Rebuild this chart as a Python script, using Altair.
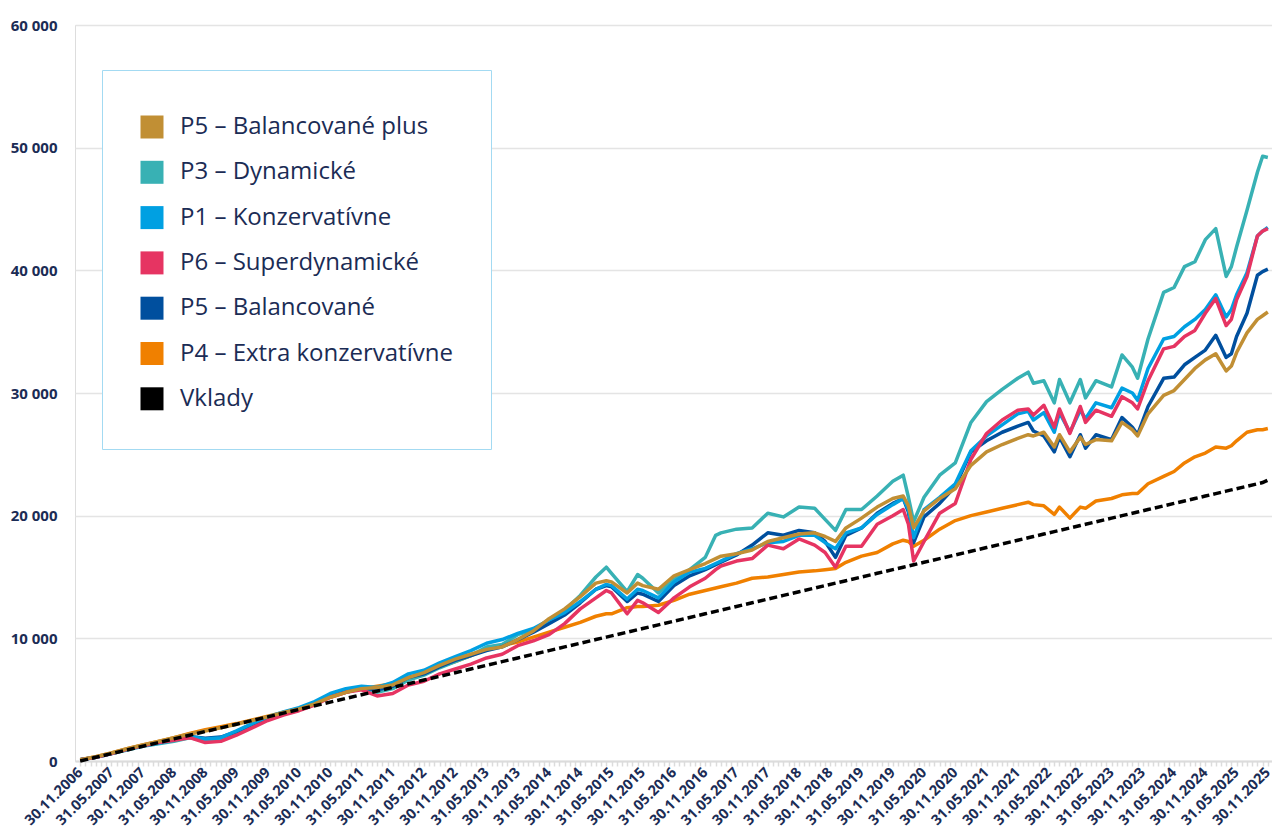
import json
import altair as alt
import pandas as pd

# ---------------- data ----------------
dates = [
    "2006-11", "2007-02", "2007-05", "2007-08", "2007-11", "2008-02", "2008-05", "2008-08",
    "2008-11", "2009-02", "2009-05", "2009-08", "2009-11", "2010-02", "2010-05", "2010-08",
    "2010-11", "2011-02", "2011-05", "2011-08", "2011-11", "2012-02", "2012-05", "2012-08",
    "2012-11", "2013-02", "2013-05", "2013-08", "2013-11", "2014-02", "2014-05", "2014-08",
    "2014-11", "2015-02", "2015-04", "2015-05", "2015-08", "2015-10", "2015-11", "2016-02",
    "2016-05", "2016-08", "2016-11", "2017-01", "2017-02", "2017-05", "2017-08", "2017-11",
    "2018-02", "2018-05", "2018-08", "2018-10", "2018-12", "2019-02", "2019-05", "2019-08",
    "2019-11", "2020-01", "2020-02", "2020-03", "2020-05", "2020-08", "2020-11", "2021-02",
    "2021-05", "2021-08", "2021-11", "2022-01", "2022-02", "2022-04", "2022-06", "2022-07",
    "2022-09", "2022-11", "2022-12", "2023-02", "2023-05", "2023-07", "2023-09", "2023-10",
    "2023-12", "2024-03", "2024-05", "2024-07", "2024-09", "2024-11", "2025-01", "2025-03",
    "2025-04", "2025-05", "2025-07", "2025-09", "2025-10", "2025-11",
]

p5_plus = [
    100, 350, 650, 1000, 1300, 1600, 1900, 2200, 2450, 2700, 3000, 3300, 3600, 3950, 4250, 4650,
    5200, 5600, 5900, 6000, 6200, 6800, 7200, 7800, 8300, 8700, 9100, 9300, 9900, 10600, 11600, 12400,
    13400, 14500, 14700, 14600, 13700, 14500, 14300, 14000, 15100, 15600, 16100, 16500, 16700, 16900, 17200, 17900,
    18200, 18500, 18600, 18300, 17900, 19000, 19800, 20700, 21400, 21600, 20800, 19000, 20400, 21400, 22200, 24100,
    25200, 25800, 26300, 26600, 26500, 26800, 25600, 26600, 25200, 26400, 25800, 26200, 26100, 27600, 27000, 26500,
    28300, 29800, 30200, 31100, 32000, 32700, 33200, 31800, 32200, 33300, 34900, 36000, 36300, 36600,
]
p3 = [
    100, 300, 600, 900, 1200, 1400, 1600, 1900, 1700, 1800, 2300, 2900, 3450, 3900, 4200, 4600,
    5300, 5600, 5900, 5600, 5900, 6600, 7000, 7600, 8100, 8600, 9300, 9500, 10300, 10700, 11500, 12300,
    13500, 15000, 15800, 15300, 13800, 15200, 14900, 13700, 14800, 15600, 16600, 18400, 18600, 18900, 19000, 20200,
    19900, 20700, 20600, 19700, 18800, 20500, 20500, 21600, 22800, 23300, 21500, 19500, 21500, 23300, 24300, 27600,
    29300, 30300, 31200, 31700, 30800, 31000, 29200, 31100, 29200, 31100, 29600, 31000, 30500, 33100, 32100, 31200,
    34400, 38200, 38600, 40300, 40700, 42500, 43400, 39500, 40300, 41900, 44900, 48000, 49300, 49200,
]
p1 = [
    100, 300, 600, 950, 1250, 1450, 1700, 2000, 1800, 1900, 2450, 3050, 3600, 4000, 4350, 4850,
    5500, 5900, 6100, 6000, 6400, 7100, 7400, 8000, 8500, 9000, 9600, 9900, 10400, 10800, 11500, 12100,
    13000, 14000, 14400, 14300, 13200, 14000, 13900, 13300, 14600, 15400, 15700, 16100, 16300, 16900, 17300, 17800,
    17900, 18400, 18400, 17800, 17300, 18600, 19000, 20100, 20900, 21400, 20500, 18200, 20500, 21500, 22600, 25300,
    26500, 27400, 28300, 28500, 27800, 28400, 26800, 28400, 26800, 28600, 27900, 29200, 28800, 30400, 30000, 29400,
    32000, 34400, 34600, 35400, 36000, 36800, 38000, 36200, 36800, 38000, 39800, 42800, 43200, 43500,
]
p6 = [
    100, 300, 600, 950, 1250, 1500, 1700, 1900, 1500, 1600, 2100, 2700, 3300, 3750, 4100, 4550,
    5200, 5600, 5800, 5300, 5500, 6200, 6500, 7100, 7500, 7900, 8400, 8700, 9400, 9800, 10300, 11200,
    12400, 13300, 13900, 13700, 12000, 13100, 12900, 12100, 13300, 14200, 14900, 15600, 15900, 16300, 16500, 17600,
    17300, 18100, 17600, 17000, 15800, 17500, 17500, 19300, 20000, 20500, 19300, 16300, 17900, 20200, 21000, 24600,
    26700, 27800, 28600, 28700, 28200, 29000, 27200, 28700, 26700, 28900, 27600, 28600, 28100, 29700, 29200, 28700,
    31000, 33600, 33800, 34600, 35100, 36500, 37700, 35500, 36000, 37600, 39500, 42800, 43200, 43400,
]
p5 = [
    100, 300, 600, 950, 1250, 1500, 1750, 2000, 1850, 1950, 2400, 3000, 3500, 3950, 4250, 4650,
    5300, 5650, 5950, 5800, 6100, 6800, 7100, 7700, 8200, 8600, 9000, 9300, 9900, 10500, 11200, 11900,
    12900, 14000, 14300, 14200, 13000, 13700, 13600, 13000, 14300, 15100, 15600, 16000, 16200, 16800, 17600, 18600,
    18400, 18800, 18600, 17900, 16600, 18400, 19000, 20200, 21000, 21400, 20300, 17800, 19900, 21000, 22400, 25200,
    26100, 26800, 27300, 27600, 26900, 26500, 25200, 26400, 24800, 26600, 25500, 26600, 26200, 28000, 27200, 26600,
    28900, 31200, 31300, 32300, 32900, 33500, 34700, 32900, 33200, 34600, 36500, 39600, 39900, 40100,
]
p4 = [
    100, 350, 650, 1000, 1300, 1600, 1900, 2250, 2550, 2800, 3050, 3350, 3650, 3950, 4250, 4650,
    5200, 5600, 5900, 6100, 6300, 6800, 7200, 7700, 8100, 8600, 9100, 9400, 9700, 10100, 10500, 10900,
    11300, 11800, 12000, 12000, 12500, 12600, 12600, 12700, 13100, 13600, 13900, 14100, 14200, 14500, 14900, 15000,
    15200, 15400, 15500, 15600, 15700, 16200, 16700, 17000, 17700, 18000, 17900, 17500, 18000, 18900, 19600, 20000,
    20300, 20600, 20900, 21100, 20900, 20800, 20100, 20700, 19800, 20700, 20600, 21200, 21400, 21700, 21800, 21800,
    22600, 23200, 23600, 24300, 24800, 25100, 25600, 25500, 25700, 26100, 26800, 27000, 27000, 27100,
]
vklady = [
    0, 300, 600, 900, 1200, 1500, 1800, 2100, 2400, 2700, 3000, 3300, 3600, 3900, 4200, 4500,
    4800, 5100, 5400, 5700, 6000, 6300, 6600, 6900, 7200, 7500, 7800, 8100, 8400, 8700, 9000, 9300,
    9600, 9900, 10100, 10200, 10500, 10700, 10800, 11100, 11400, 11700, 12000, 12200, 12300, 12600, 12900, 13200,
    13500, 13800, 14100, 14300, 14500, 14700, 15000, 15300, 15600, 15800, 15900, 16000, 16200, 16500, 16800, 17100,
    17400, 17700, 18000, 18200, 18300, 18500, 18700, 18800, 19000, 19200, 19300, 19500, 19800, 20000, 20200, 20300,
    20500, 20800, 21000, 21200, 21400, 21600, 21800, 22000, 22100, 22200, 22400, 22600, 22700, 22900,
]

series_names = [
    "P5 – Balancované plus",
    "P3 – Dynamické",
    "P1 – Konzervatívne",
    "P6 – Superdynamické",
    "P5 – Balancované",
    "P4 – Extra konzervatívne",
    "Vklady",
]
series_values = [p5_plus, p3, p1, p6, p5, p4, vklady]
colors = ["#c18f34", "#38b1b4", "#00a0e2", "#e63462", "#004f9e", "#f08000", "#000000"]

tick_labels = []
for y in range(2006, 2026):
    if y > 2006:
        tick_labels.append(f"31.05.{y}")
    tick_labels.append(f"30.11.{y}")

y_ticks = [0, 10000, 20000, 30000, 40000, 50000, 60000]

# drawing order (bottom to top)
draw_order = [
    "P4 – Extra konzervatívne",
    "P3 – Dynamické",
    "P5 – Balancované",
    "P1 – Konzervatívne",
    "P6 – Superdynamické",
    "P5 – Balancované plus",
    "Vklady",
]


def month_index(d):
    yy, mm = map(int, d.split("-"))
    return (yy - 2006) * 12 + (mm - 11)


rows = []
for name, vals in zip(series_names, series_values):
    for d, v in zip(dates, vals):
        rows.append({"series": name, "m": month_index(d), "v": v, "date": d})
df = pd.DataFrame(rows)
color_of = dict(zip(series_names, colors))

NAVY = "#1b2c55"
FONT = "Open Sans"

label_expr_x = (
    "datum.value % 6 == 0 ? " + json.dumps(tick_labels) + "[datum.value / 6] : ''"
)

x_scale = alt.Scale(domain=[-1, 228.8], nice=False, zero=False)
y_scale = alt.Scale(domain=[0, 60000], nice=False)

x_axis = alt.Axis(
    values=list(range(0, 229)),
    labelExpr=label_expr_x,
    labelAngle=315,
    labelAlign="right",
    labelBaseline="middle",
    labelFontSize=14.5,
    labelFontWeight="bold",
    labelColor=NAVY,
    labelFont=FONT,
    labelOverlap=False,
    labelFlush=False,
    labelPadding=4,
    tickSize=5,
    tickColor="#dcdcdc",
    tickWidth=1.5,
    domainColor="#dcdcdc",
    domainWidth=2,
    grid=False,
    title=None,
)
y_axis = alt.Axis(
    values=y_ticks,
    labelExpr="replace(format(datum.value, ','), ',', ' ')",
    grid=True,
    gridColor="#e4e4e4",
    gridWidth=1.5,
    domain=False,
    ticks=False,
    labelPadding=18,
    labelFontSize=15,
    labelFontWeight="bold",
    labelColor=NAVY,
    labelFont=FONT,
    title=None,
)
x_enc = alt.X("m:Q", scale=x_scale, axis=x_axis)
y_enc = alt.Y("v:Q", scale=y_scale, axis=y_axis)

layers = []
for name in draw_order:
    sub = df[df["series"] == name]
    if name == "Vklady":
        mark = alt.Chart(sub).mark_line(strokeWidth=3.5, strokeDash=[8, 4], color=color_of[name])
    else:
        mark = alt.Chart(sub).mark_line(strokeWidth=3.5, strokeJoin="round", color=color_of[name])
    layers.append(mark.encode(x=x_enc, y=y_enc, order=alt.Order("m:Q")))

# legend carrier: filled squares placed outside the clipped plot
legend_df = pd.DataFrame({"series": series_names, "m": [-500] * 7, "v": [-50000] * 7})
legend_layer = (
    alt.Chart(legend_df)
    .mark_square(filled=True, clip=True, size=529, opacity=1)
    .encode(
        x=x_enc,
        y=y_enc,
        fill=alt.Fill(
            "series:N",
            scale=alt.Scale(domain=series_names, range=colors),
            legend=alt.Legend(
                title=" ",
                titleFontSize=2,
                titlePadding=5,
                orient="none",
                legendX=27,
                legendY=45,
                symbolType="square",
                symbolSize=529,
                symbolStrokeWidth=0,
                labelFontSize=24,
                labelFont=FONT,
                labelColor=NAVY,
                labelOffset=16,
                labelLimit=500,
                padding=38,
                rowPadding=21.3,
                strokeColor="#a3daf2",
                fillColor="#ffffff",
            ),
        ),
    )
)

chart = (
    alt.layer(*layers, legend_layer)
    .properties(
        width=1197,
        height=736,
        autosize=alt.AutoSizeParams(type="none"),
        padding={"left": 67, "top": 17, "right": 0, "bottom": 68},
    )
    .configure_view(stroke=None)
    .configure(background="white")
)

chart.save("out.html", embed_options={"renderer": "svg", "actions": False})
